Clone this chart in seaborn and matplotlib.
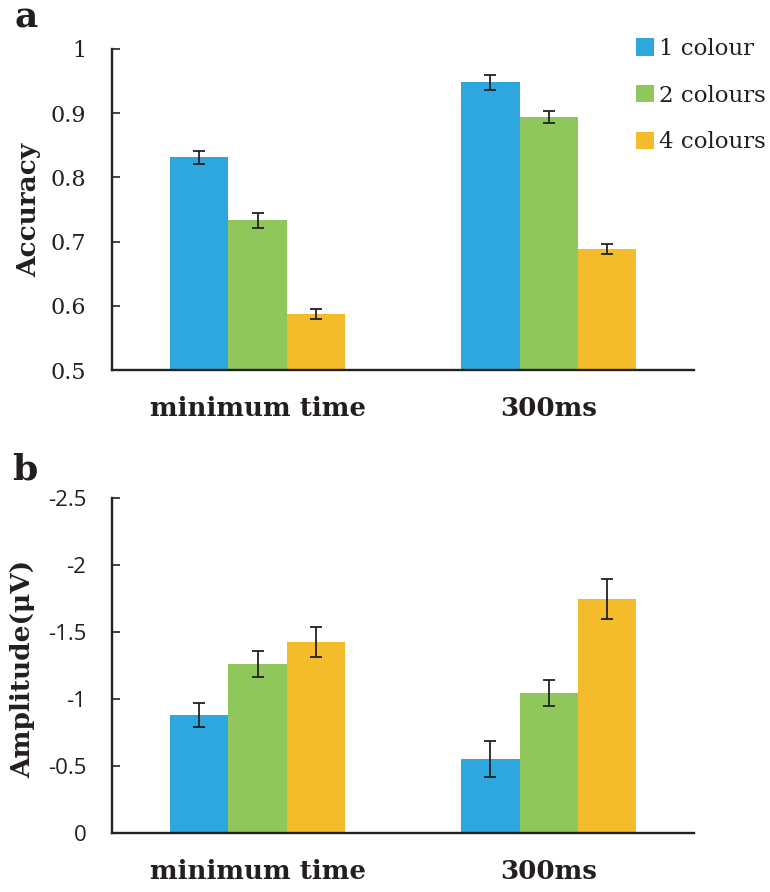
import matplotlib
matplotlib.use("Agg")
import matplotlib.pyplot as plt
from matplotlib.ticker import FixedLocator, FuncFormatter
from matplotlib.patches import Patch
import numpy as np
import pandas as pd
import seaborn as sns

# ---- data ----
conditions = ["minimum time", "300ms"]
set_sizes = ["1 colour", "2 colours", "4 colours"]
colours = ["#2EA7DE", "#8FC75A", "#F4BC2A"]

acc_1 = [0.831, 0.948]
acc_2 = [0.733, 0.894]
acc_4 = [0.587, 0.688]
acc_err_1 = [0.010, 0.012]
acc_err_2 = [0.012, 0.010]
acc_err_4 = [0.008, 0.008]

amp_1 = [-0.88, -0.55]
amp_2 = [-1.26, -1.045]
amp_4 = [-1.425, -1.745]
amp_err_1 = [0.09, 0.135]
amp_err_2 = [0.097, 0.097]
amp_err_4 = [0.114, 0.147]

acc_ticks = [0.5, 0.6, 0.7, 0.8, 0.9, 1.0]
amp_ticks = [0, -0.5, -1, -1.5, -2, -2.5]


def long_table(v1, v2, v4, e1, e2, e4):
    rows = []
    for size, vals, errs in zip(set_sizes, [v1, v2, v4], [e1, e2, e4]):
        for cond, v, e in zip(conditions, vals, errs):
            rows.append({"condition": cond, "set size": size, "value": v, "sem": e})
    return pd.DataFrame(rows)


acc_df = long_table(acc_1, acc_2, acc_4, acc_err_1, acc_err_2, acc_err_4)
amp_df = long_table(amp_1, amp_2, amp_4, amp_err_1, amp_err_2, amp_err_4)

sns.set_theme(style="white")
plt.rcParams["font.family"] = ["DejaVu Serif"]

SERIF = "DejaVu Serif"
SANS = "Open Sans"
INK = "#231f20"

fig = plt.figure(figsize=(7.7, 8.92), dpi=100)
ax_a = fig.add_axes([0.1455, 0.5852, 0.756, 0.36])
ax_b = fig.add_axes([0.1455, 0.0661, 0.756, 0.3756])


def draw_panel(ax, df):
    sns.barplot(data=df, x="condition", y="value", hue="set size",
                order=conditions, hue_order=set_sizes, palette=colours,
                saturation=1, width=0.6, errorbar=None, linewidth=0,
                legend=False, ax=ax)
    for size, container in zip(set_sizes, ax.containers):
        sub = df[df["set size"] == size].set_index("condition").loc[conditions]
        xs = [p.get_x() + p.get_width() / 2 for p in container.patches]
        ax.errorbar(xs, sub["value"].values, yerr=sub["sem"].values,
                    fmt="none", ecolor="#222222", elinewidth=1.3,
                    capsize=4, capthick=1.3, zorder=5)
    for side in ["top", "right"]:
        ax.spines[side].set_visible(False)
    for side in ["left", "bottom"]:
        ax.spines[side].set_color("#222222")
        ax.spines[side].set_linewidth(1.7)
    ax.set_xlim(-0.5, 1.5)
    ax.set_xlabel("")
    ax.tick_params(axis="x", length=0, pad=19)
    ax.tick_params(axis="y", direction="in", length=6, width=1.2,
                   color="#222222", pad=18.5, left=True)
    for lab in ax.get_xticklabels():
        lab.set_fontfamily(SERIF)
        lab.set_fontweight("bold")
        lab.set_fontsize(18.8)
        lab.set_color(INK)


draw_panel(ax_a, acc_df)
ax_a.set_ylim(0.5, 1.0)
ax_a.yaxis.set_major_locator(FixedLocator(acc_ticks))
ax_a.yaxis.set_major_formatter(FuncFormatter(lambda v, p: f"{v:g}"))
for lab in ax_a.get_yticklabels():
    lab.set_fontfamily(SERIF)
    lab.set_fontsize(16)
    lab.set_color(INK)
ax_a.set_ylabel("Accuracy", fontfamily=SERIF, fontweight="bold",
                fontsize=19, color=INK, va="center")
ax_a.yaxis.set_label_coords(-0.143, 0.5)

draw_panel(ax_b, amp_df)
ax_b.set_ylim(0, -2.5)
ax_b.yaxis.set_major_locator(FixedLocator(amp_ticks))
ax_b.yaxis.set_major_formatter(FuncFormatter(lambda v, p: f"{v:g}".replace("\u2212", "-")))
for lab in ax_b.get_yticklabels():
    lab.set_fontfamily(SANS)
    lab.set_fontsize(16)
    lab.set_color(INK)
ax_b.set_ylabel("Amplitude(\u03bcV)", fontfamily=SERIF, fontweight="bold",
                fontsize=19, color=INK, va="center")
ax_b.yaxis.set_label_coords(-0.153, 0.49)

# legend for set size
handles = [Patch(facecolor=c, edgecolor="none") for c in colours]
fig.legend(handles, set_sizes, loc="upper left",
           bbox_to_anchor=(636 / 770, 1 - 38 / 892), frameon=False,
           borderpad=0, borderaxespad=0, handlelength=0.77, handleheight=0.77,
           handletextpad=0.25, labelspacing=1.08,
           prop={"family": SERIF, "size": 16.5})
for t in fig.legends[0].get_texts():
    t.set_color(INK)

# panel letters
fig.text(14 / 770, 1 - 28 / 892, "a", fontfamily=SERIF, fontweight="bold",
         fontsize=26, color=INK, ha="left", va="baseline")
fig.text(12 / 770, 1 - 479 / 892, "b", fontfamily=SERIF, fontweight="bold",
         fontsize=26, color=INK, ha="left", va="baseline")

fig.savefig("out.png", dpi=100)
